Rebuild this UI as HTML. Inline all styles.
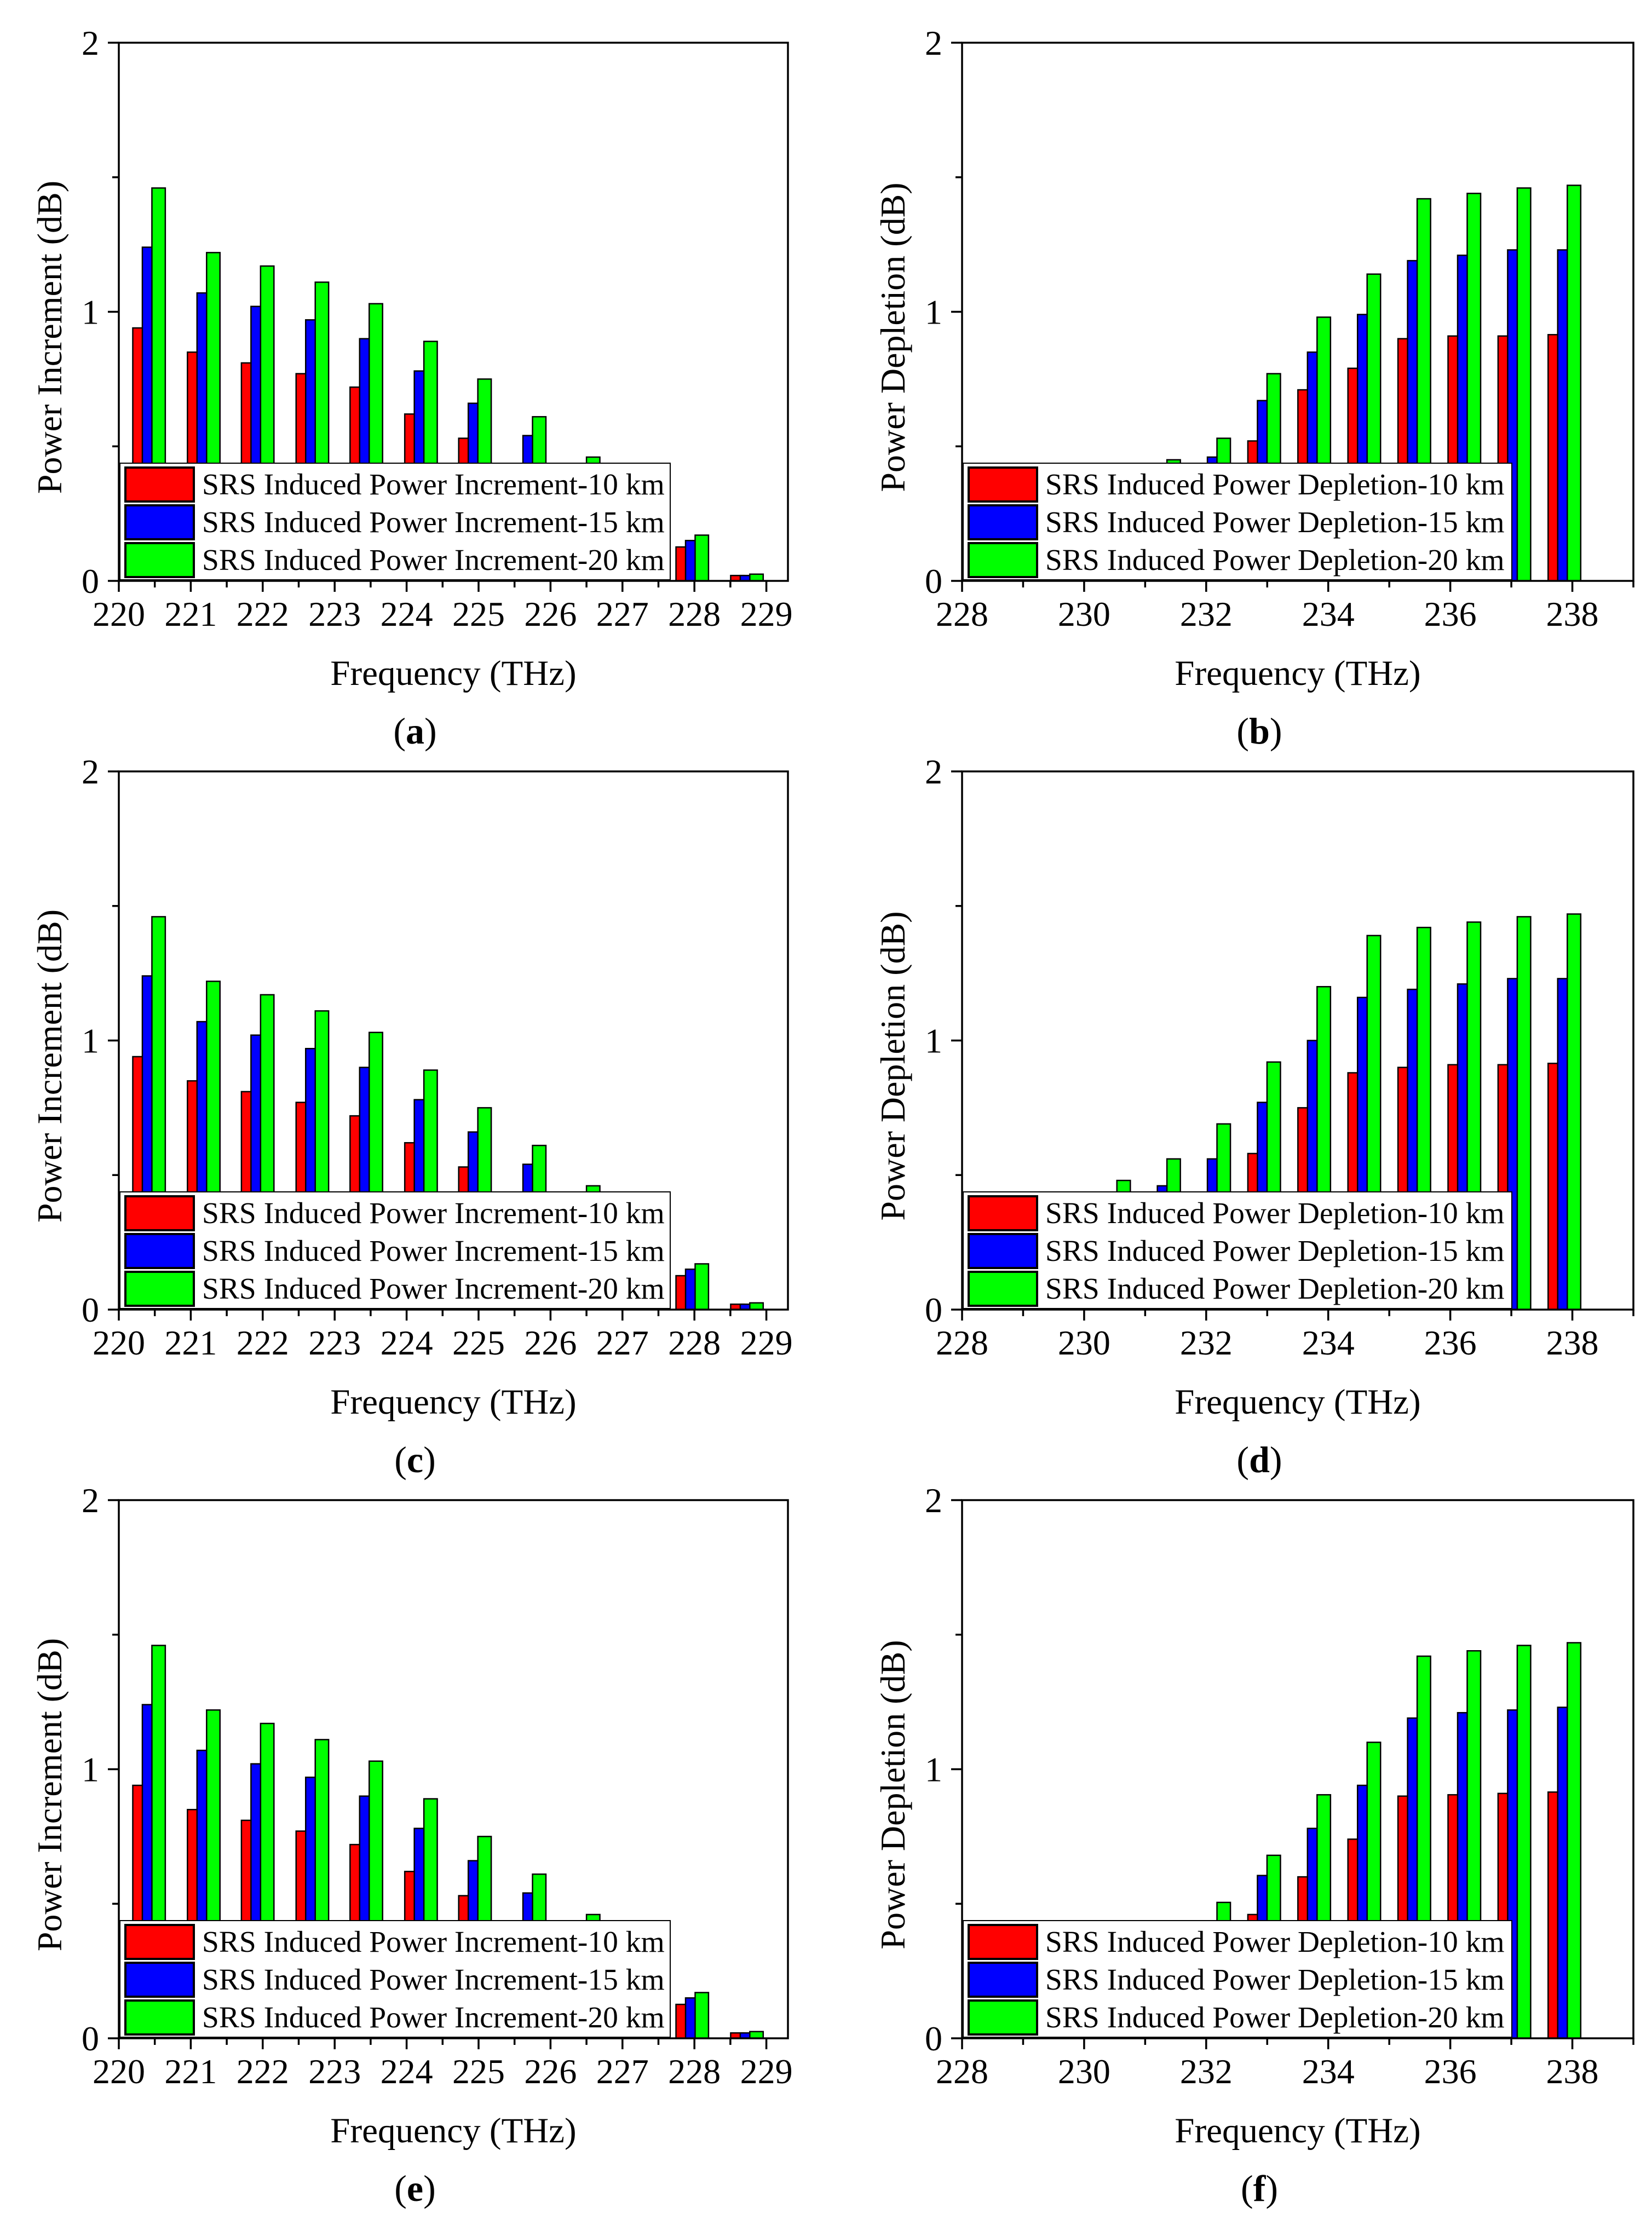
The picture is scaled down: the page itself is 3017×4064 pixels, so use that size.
<!DOCTYPE html>
<html><head><meta charset="utf-8"><style>
html,body{margin:0;padding:0;background:#fff}
svg{display:block}
text{font-family:"Liberation Serif",serif;fill:#000}
</style></head><body>
<svg id="fig" width="3017" height="4064" viewBox="0 0 3017 4064" xmlns="http://www.w3.org/2000/svg"></svg>
<script>
const incFreq = [220.42,221.18,221.93,222.69,223.44,224.2,224.95,225.71,226.46,227.22,227.97,228.73];
const incRed  = [0.94,0.85,0.81,0.77,0.72,0.62,0.53,0.40,0.28,0.18,0.126,0.02];
const incBlue = [1.24,1.07,1.02,0.97,0.90,0.78,0.66,0.54,0.39,0.25,0.15,0.02];
const incGreen= [1.46,1.22,1.17,1.11,1.03,0.89,0.75,0.61,0.46,0.32,0.17,0.025];
const incTicks = [220,221,222,223,224,225,226,227,228,229];

const depFreq = [228.85,229.67,230.49,231.31,232.13,232.95,233.77,234.59,235.41,236.23,237.05,237.87];
const depTicks = [228,230,232,234,236,238];
const bRed   = [0.08,0.12,0.18,0.26,0.38,0.52,0.71,0.79,0.90,0.91,0.91,0.915];
const bBlue  = [0.12,0.18,0.26,0.35,0.46,0.67,0.85,0.99,1.19,1.21,1.23,1.23];
const bGreen = [0.20,0.28,0.37,0.45,0.53,0.77,0.98,1.14,1.42,1.44,1.46,1.47];
const dRed   = [0.10,0.16,0.24,0.33,0.42,0.58,0.75,0.88,0.90,0.91,0.91,0.915];
const dBlue  = [0.20,0.28,0.38,0.46,0.56,0.77,1.00,1.16,1.19,1.21,1.23,1.23];
const dGreen = [0.30,0.40,0.48,0.56,0.69,0.92,1.20,1.39,1.42,1.44,1.46,1.47];
const fRed   = [0.06,0.10,0.15,0.22,0.32,0.46,0.60,0.74,0.90,0.905,0.91,0.915];
const fBlue  = [0.10,0.15,0.22,0.30,0.40,0.605,0.78,0.94,1.19,1.21,1.22,1.23];
const fGreen = [0.15,0.22,0.30,0.40,0.505,0.68,0.905,1.10,1.42,1.44,1.46,1.47];
const yTicks = [0,1,2];
const incLegend = ["SRS Induced Power Increment-10 km","SRS Induced Power Increment-15 km","SRS Induced Power Increment-20 km"];
const depLegend = ["SRS Induced Power Depletion-10 km","SRS Induced Power Depletion-15 km","SRS Induced Power Depletion-20 km"];

const NS="http://www.w3.org/2000/svg";
const svg=document.getElementById('fig');
function mk(tag,attrs,parent){const e=document.createElementNS(NS,tag);for(const k in attrs)e.setAttribute(k,attrs[k]);(parent||svg).appendChild(e);return e;}

const colors=["#ff0000","#0000ff","#00ff00"];
const panels=[
 {id:'a',x0:217,y0:78,w:1222,xmin:220,xmax:229.3,freq:incFreq,s:[incRed,incBlue,incGreen],ticks:incTicks,minor:0.5,ylab:"Power Increment (dB)",leg:incLegend,legW:1005,bw:0.186,off:0.133},
 {id:'b',x0:1757,y0:78,w:1226,xmin:228,xmax:239,freq:depFreq,s:[bRed,bBlue,bGreen],ticks:depTicks,minor:1,ylab:"Power Depletion (dB)",leg:depLegend,legW:1002,bw:0.22,off:0.157},
 {id:'c',x0:217,y0:1409,w:1222,xmin:220,xmax:229.3,freq:incFreq,s:[incRed,incBlue,incGreen],ticks:incTicks,minor:0.5,ylab:"Power Increment (dB)",leg:incLegend,legW:1005,bw:0.186,off:0.133},
 {id:'d',x0:1757,y0:1409,w:1226,xmin:228,xmax:239,freq:depFreq,s:[dRed,dBlue,dGreen],ticks:depTicks,minor:1,ylab:"Power Depletion (dB)",leg:depLegend,legW:1002,bw:0.22,off:0.157},
 {id:'e',x0:217,y0:2740,w:1222,xmin:220,xmax:229.3,freq:incFreq,s:[incRed,incBlue,incGreen],ticks:incTicks,minor:0.5,ylab:"Power Increment (dB)",leg:incLegend,legW:1005,bw:0.186,off:0.133},
 {id:'f',x0:1757,y0:2740,w:1226,xmin:228,xmax:239,freq:depFreq,s:[fRed,fBlue,fGreen],ticks:depTicks,minor:1,ylab:"Power Depletion (dB)",leg:depLegend,legW:1002,bw:0.22,off:0.157}
];
const H=983;
panels.forEach(p=>{
  const g=mk('g',{});
  
  
  const xs=v=>p.x0+(v-p.xmin)/(p.xmax-p.xmin)*p.w;
  const ys=v=>p.y0+H-v/2*H;
  const yb=p.y0+H;
  p.s.forEach((series,si)=>{
    series.forEach((v,i)=>{
      const c=p.freq[i]+(si-1)*p.off;
      const r=mk('rect',{x:xs(c-p.bw/2),y:ys(v),width:xs(c+p.bw/2)-xs(c-p.bw/2),height:yb-ys(v),fill:colors[si],stroke:'#000','stroke-width':2.5},g);
      
      
    });
  });
  const lg=mk('g',{},g);
  
  
  const lx=p.x0+2, ly=yb-215;
  mk('rect',{x:lx,y:ly,width:p.legW,height:213,fill:'#fff',stroke:'#000','stroke-width':2},lg);
  p.leg.forEach((t,i)=>{
    const e=mk('g',{},lg);
    
    
    mk('rect',{x:lx+10,y:ly+8+i*69,width:125,height:62,fill:colors[i],stroke:'#000','stroke-width':4},e);
    const tx=mk('text',{x:lx+150,y:ly+57+i*69,'font-size':55.5},e);
    tx.textContent=t;
  });
  const ax=mk('rect',{x:p.x0,y:p.y0,width:p.w,height:H,fill:'none',stroke:'#000','stroke-width':3.5},g);
  
  
  for(let v=p.xmin; v<=p.xmax+1e-6; v+=p.minor){
    const isMaj=p.ticks.some(t=>Math.abs(t-v)<1e-6);
    mk('line',{x1:xs(v),x2:xs(v),y1:yb,y2:yb+(isMaj?20:12),stroke:'#000','stroke-width':3.5},g);
  }
  p.ticks.forEach(t=>{
    const tl=mk('text',{x:xs(t),y:yb+82,'font-size':64,'text-anchor':'middle'},g);
    
    
    tl.textContent=t;
  });
  [0,0.5,1,1.5,2].forEach(v=>{
    const maj=Math.abs(v-Math.round(v))<1e-6;
    mk('line',{x1:p.x0,x2:p.x0-(maj?20:12),y1:ys(v),y2:ys(v),stroke:'#000','stroke-width':3.5},g);
  });
  yTicks.forEach(t=>{
    const tl=mk('text',{x:p.x0-36,y:ys(t)+22,'font-size':64,'text-anchor':'end'},g);
    
    
    tl.textContent=t;
  });
  const xt=mk('text',{x:p.x0+p.w/2,y:p.y0+1173,'font-size':65,'text-anchor':'middle'},g);
  
  
  xt.textContent="Frequency (THz)";
  const ycx=p.x0-105, ycy=p.y0+538;
  const yt=mk('text',{x:ycx,y:ycy,'font-size':64,'text-anchor':'middle',transform:`rotate(-90 ${ycx} ${ycy})`},g);
  
  
  yt.textContent=p.ylab;
  const sl=mk('text',{x:p.x0+p.w/2-70,y:p.y0+1280,'font-size':68,'text-anchor':'middle'},g);
  
  
  sl.innerHTML='(<tspan font-weight="bold">'+p.id+'</tspan>)';
});
</script>
</body></html>
